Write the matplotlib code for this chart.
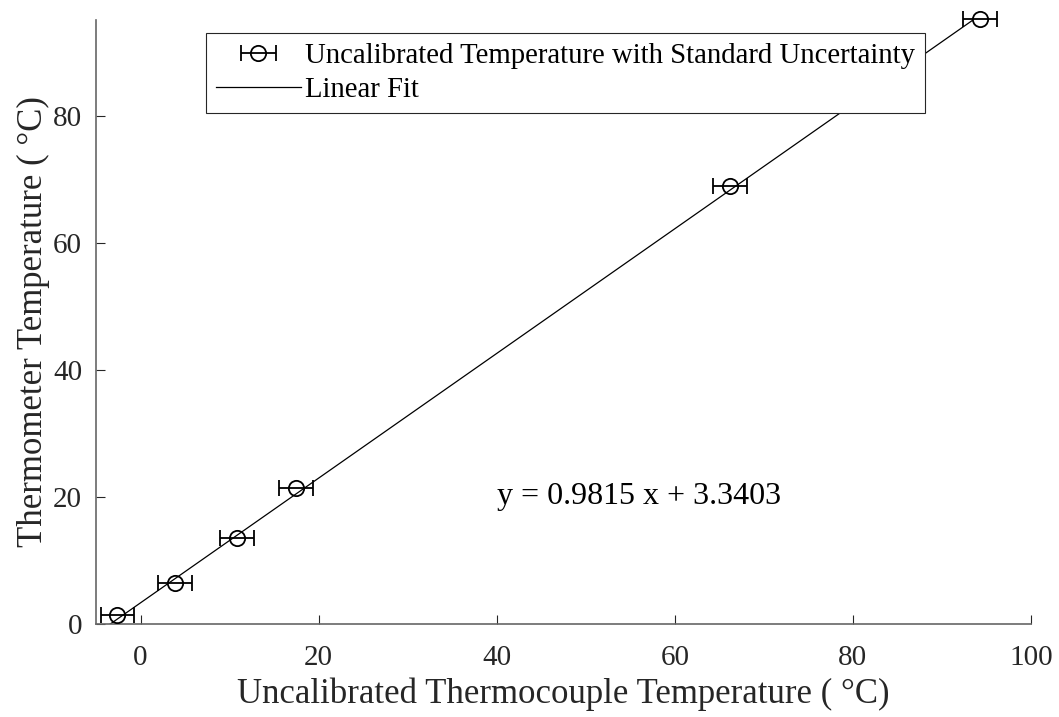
import matplotlib as mpl
mpl.use('Agg')
import matplotlib.pyplot as plt
from matplotlib.legend_handler import HandlerErrorbar
import numpy as np

mpl.rcParams['font.family'] = ['Liberation Serif', 'DejaVu Serif']

# uncalibrated thermocouple readings vs thermometer
tc_temp = [-2.6, 3.9, 10.8, 17.5, 66.2, 94.3]
thermo_temp = [1.4, 6.5, 13.5, 21.4, 69.0, 95.3]
tc_err = [1.9, 1.9, 1.9, 1.9, 1.9, 1.9]

slope = 0.9815
intercept = 3.3403
fit_x = [-4.5, 94.3]

xticks = [0, 20, 40, 60, 80, 100]
yticks = [0, 20, 40, 60, 80]

fig = plt.figure(figsize=(10.59, 7.17), dpi=100)
ax = fig.add_axes([0.0907, 0.1297, 0.9735 - 0.0907, 0.9721 - 0.1297])

eb = ax.errorbar(tc_temp, thermo_temp, xerr=tc_err, fmt='o', color='k',
                 mfc='none', ms=11, mew=1.3, elinewidth=1.3, capsize=6,
                 capthick=1.3, clip_on=False, zorder=3,
                 label='Uncalibrated Temperature with Standard Uncertainty')
for art in eb.lines[1] + eb.lines[2]:
  art.set_clip_on(False)

fx = np.array(fit_x)
ln, = ax.plot(fx, slope * fx + intercept, color='k', lw=0.9, label='Linear Fit')

ax.text(40, 20, 'y = %.4f x + %.4f' % (slope, intercept), fontsize=23,
        va='center', ha='left')

ax.set_xlim(-5, 100)
ax.set_ylim(0, 95.1)
ax.set_xticks(xticks)
ax.set_yticks(yticks)
ax.tick_params(direction='in', length=6.5, width=0.8, labelsize=21,
               colors='0.15', labelcolor='0.15')
ax.tick_params(axis='x', pad=15)
ax.tick_params(axis='y', pad=10)
for s in ['top', 'right']:
  ax.spines[s].set_visible(False)
for s in ['left', 'bottom']:
  ax.spines[s].set_color('0.4')
  ax.spines[s].set_linewidth(1.2)

ax.set_xlabel('Uncalibrated Thermocouple Temperature ( °C)', fontsize=25,
              color='0.15', labelpad=5)
ax.set_ylabel('Thermometer Temperature ( °C)', fontsize=25, color='0.15',
              labelpad=2)

leg = ax.legend(handles=[eb, ln], loc='upper left',
                bbox_to_anchor=(206 / 1059, 1 - 33 / 717),
                bbox_transform=fig.transFigure, fontsize=20.7,
                handlelength=2.95, handletextpad=0.15, borderpad=0.35,
                labelspacing=0.28, borderaxespad=0, fancybox=False,
                framealpha=1, edgecolor='0.15',
                handler_map={eb: HandlerErrorbar(xerr_size=0.62)})
leg.get_frame().set_linewidth(0.8)

plt.savefig('out.png', dpi=100)
